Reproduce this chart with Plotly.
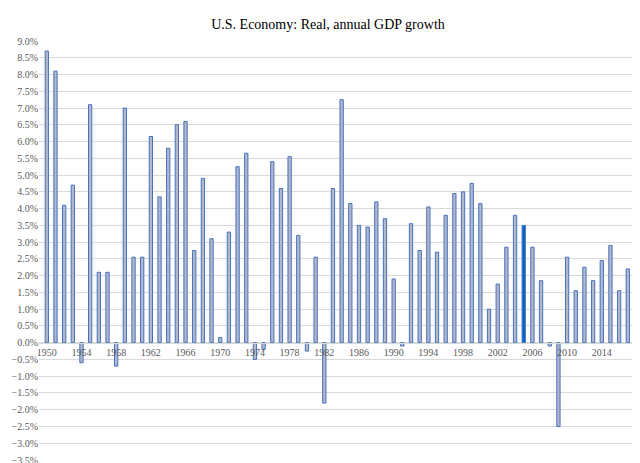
import plotly.graph_objects as go

years = list(range(1950, 2018))
growth = [
    8.7, 8.1, 4.1, 4.7, -0.6, 7.1, 2.1, 2.1, -0.7, 7.0,
    2.55, 2.55, 6.15, 4.35, 5.8, 6.5, 6.6, 2.75, 4.9, 3.1,
    0.15, 3.3, 5.25, 5.65, -0.5, -0.2, 5.4, 4.6, 5.55, 3.2,
    -0.25, 2.55, -1.8, 4.6, 7.25, 4.15, 3.5, 3.45, 4.2, 3.7,
    1.9, -0.1, 3.55, 2.75, 4.05, 2.7, 3.8, 4.45, 4.5, 4.75,
    4.15, 1.0, 1.75, 2.85, 3.8, 3.5, 2.85, 1.85, -0.1, -2.5,
    2.55, 1.55, 2.25, 1.85, 2.45, 2.9, 1.55, 2.2,
]
growth_frac = [g / 100 for g in growth]
tick_years = list(range(1950, 2018, 4))

fills = ["#0563c1" if y == 2005 else "#b4b8c6" for y in years]

fig = go.Figure()
fig.add_bar(
    x=years, y=growth_frac, width=0.38,
    marker=dict(color=fills, line=dict(color="#4472c4", width=1)),
)
font = "Liberation Serif, Times New Roman, serif"
fig.update_layout(
    width=640, height=463,
    margin=dict(l=31, r=15, t=33, b=11),
    plot_bgcolor="white", paper_bgcolor="white",
    showlegend=False,
    font=dict(family=font, size=10, color="#595959"),
    title=dict(text="U.S. Economy: Real, annual GDP growth", x=0.5, y=0.975,
               xanchor="center", font=dict(family=font, size=14, color="#000")),
    xaxis=dict(
        range=[1949.1, 2017.6], tickvals=tick_years, ticktext=[str(t) for t in tick_years],
        anchor="free", position=0.28, showgrid=False, showline=True,
        linecolor="#d9d9d9", ticks="", zeroline=False, automargin=False,
    ),
    yaxis=dict(
        range=[-0.035, 0.09], dtick=0.005, tickformat=".1%",
        gridcolor="#d9d9d9", zeroline=False, ticks="", automargin=False,
    ),
)
fig.write_html("out.html")
